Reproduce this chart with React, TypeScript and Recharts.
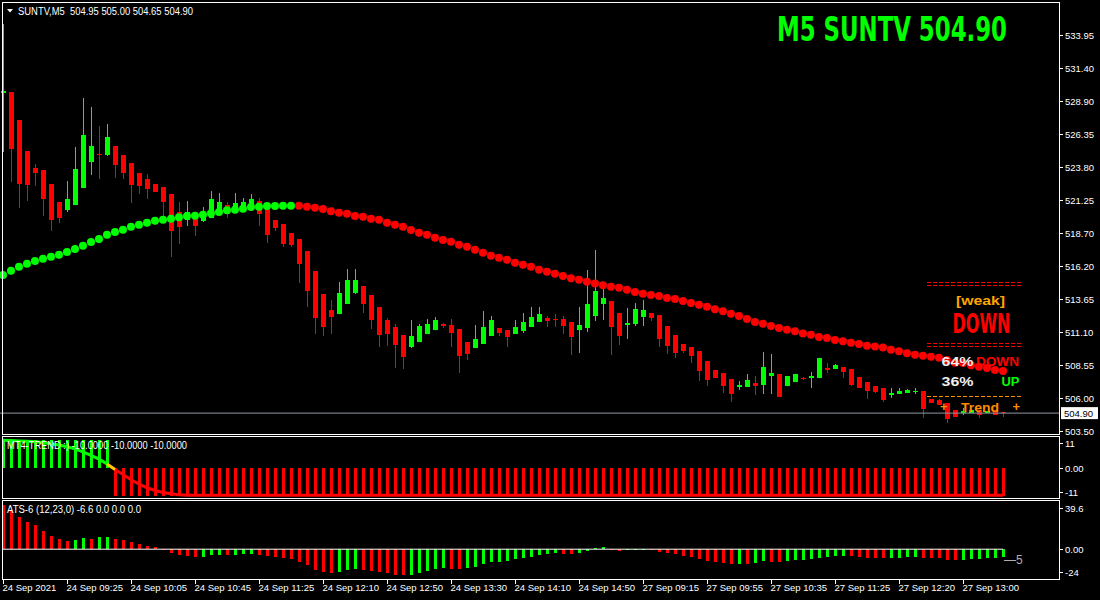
import React from 'react';
import { ComposedChart, Bar, Line, XAxis, YAxis, ReferenceLine, Cell } from 'recharts';

// ---- time axis (one label every 8 five-minute candles)
const tickLabels = [
  '24 Sep 2021', '24 Sep 09:25', '24 Sep 10:05', '24 Sep 10:45', '24 Sep 11:25', '24 Sep 12:10',
  '24 Sep 12:50', '24 Sep 13:30', '24 Sep 14:10', '24 Sep 14:50', '27 Sep 09:15', '27 Sep 09:55',
  '27 Sep 10:35', '27 Sep 11:25', '27 Sep 12:20', '27 Sep 13:00',
];
const TICK_EVERY = 8;

const priceTicks = [533.95, 531.4, 528.9, 526.35, 523.8, 521.25, 518.7, 516.2, 513.65, 511.1, 508.55, 506.0, 503.5];
const lastPrice = 504.9;

// ---- SUNTV M5 candles
const candleOpen = [
  529.54, 529.62, 527.46, 525.08, 523.77, 523.61, 522.53, 521.19, 520.56, 520.94,
  522.25, 524.25, 524.84, 524.77, 525.46, 524.77, 524.15, 523.38, 522.92, 522.53,
  522.30, 521.77, 520.38, 519.77, 519.84, 519.71, 519.94, 520.28, 520.92, 520.56,
  520.63, 520.79, 521.23, 520.84, 519.77, 519.46, 518.76, 518.30, 517.38, 515.84,
  514.07, 512.84, 512.55, 513.32, 514.17, 514.68, 513.99, 513.07, 512.07, 511.53,
  510.91, 510.01, 510.40, 511.01, 511.32, 511.78, 511.68, 511.37, 510.37, 509.94,
  510.24, 510.86, 511.45, 511.30, 511.01, 511.24, 511.55, 511.94, 512.24, 512.15,
  512.15, 511.91, 511.32, 511.47, 512.40, 513.32, 513.53, 512.61, 511.71, 511.78,
  512.32, 512.61, 512.45, 511.61, 510.91, 510.22, 509.99, 509.68, 508.91, 508.22,
  507.99, 507.53, 506.93, 506.93, 507.24, 507.09, 507.78, 507.93, 507.01, 507.32,
  507.63, 507.58, 507.63, 508.40, 508.32, 508.47, 508.30, 507.70, 507.32, 507.01,
  506.86, 506.32, 506.39, 506.47, 506.55, 506.60, 505.99, 505.91, 505.68, 505.14,
  504.89, 504.89, 505.14, 504.89, 505.14, 504.95,
];
const candleHigh = [
  534.85, 529.62, 527.46, 525.08, 524.08, 523.61, 522.53, 521.19, 522.77, 525.38,
  529.15, 528.46, 527.00, 527.15, 525.46, 524.77, 524.15, 523.38, 523.30, 522.53,
  522.30, 521.77, 521.15, 521.23, 519.84, 520.79, 522.00, 521.84, 521.15, 521.84,
  521.46, 521.77, 521.46, 520.84, 519.77, 519.46, 518.76, 518.30, 517.38, 515.84,
  514.07, 513.61, 515.00, 516.00, 516.00, 514.68, 513.99, 513.07, 512.24, 511.76,
  510.91, 512.07, 511.76, 512.15, 512.30, 511.86, 512.15, 511.37, 510.37, 511.68,
  512.76, 512.38, 511.45, 511.30, 512.07, 512.61, 513.07, 513.07, 512.38, 512.53,
  512.38, 511.91, 513.07, 515.91, 517.45, 514.90, 513.53, 512.61, 512.99, 513.38,
  513.61, 512.61, 512.45, 511.61, 510.91, 510.22, 509.99, 509.68, 508.91, 508.22,
  507.99, 507.53, 507.40, 507.93, 507.78, 509.63, 509.47, 507.93, 507.78, 507.93,
  507.70, 508.07, 509.14, 508.78, 508.68, 508.47, 508.30, 507.70, 507.32, 507.01,
  506.86, 506.86, 506.86, 506.78, 506.86, 506.60, 505.99, 506.01, 505.68, 505.14,
  505.27, 505.14, 505.14, 505.06, 505.14, 505.00,
];
const candleLow = [
  525.00, 522.71, 520.71, 521.25, 522.38, 520.10, 518.94, 519.56, 520.40, 520.94,
  522.25, 523.23, 522.94, 524.69, 523.02, 522.92, 521.07, 521.79, 521.40, 521.94,
  520.10, 516.94, 517.94, 519.33, 518.56, 519.63, 519.94, 520.28, 519.94, 520.48,
  520.63, 520.79, 519.33, 518.02, 518.94, 517.71, 517.71, 514.94, 513.09, 511.01,
  510.86, 511.01, 512.55, 513.32, 514.09, 512.63, 511.40, 510.01, 510.09, 508.40,
  508.32, 509.94, 510.40, 511.01, 511.32, 511.48, 510.01, 508.01, 509.01, 509.94,
  510.24, 510.86, 510.86, 510.01, 511.01, 511.09, 511.55, 511.94, 511.55, 511.55,
  511.01, 509.39, 509.55, 511.17, 512.01, 512.09, 509.39, 510.17, 510.63, 511.63,
  511.63, 512.01, 510.01, 509.47, 509.17, 509.55, 508.78, 507.40, 507.01, 507.63,
  506.47, 505.78, 506.70, 506.93, 506.32, 506.39, 506.39, 506.16, 507.01, 507.32,
  507.50, 506.86, 507.63, 508.01, 508.32, 507.63, 507.01, 506.86, 506.01, 506.47,
  505.78, 506.09, 506.39, 506.47, 506.39, 504.55, 505.70, 505.55, 504.16, 504.62,
  504.73, 504.89, 504.55, 504.89, 504.73, 504.65,
];
const candleClose = [
  529.70, 525.23, 522.56, 522.48, 523.38, 521.40, 519.79, 519.94, 521.38, 523.69,
  526.31, 525.46, 524.77, 526.16, 524.00, 523.38, 522.46, 522.40, 522.15, 521.94,
  521.17, 518.92, 519.25, 520.38, 519.33, 520.38, 521.38, 521.15, 520.25, 521.07,
  521.15, 521.38, 520.25, 518.63, 519.17, 517.94, 517.86, 516.40, 514.32, 512.24,
  511.55, 512.32, 514.15, 515.15, 515.15, 513.32, 512.09, 510.94, 511.01, 510.17,
  509.24, 510.84, 511.61, 511.76, 512.07, 511.63, 511.09, 509.32, 509.47, 510.60,
  511.53, 512.07, 511.09, 510.78, 511.55, 511.91, 512.30, 512.53, 512.01, 512.10,
  511.63, 510.78, 511.68, 513.30, 514.30, 513.76, 511.55, 510.86, 511.84, 512.92,
  512.84, 512.24, 510.63, 510.09, 509.55, 509.70, 509.32, 508.17, 507.47, 507.63,
  507.01, 506.39, 507.09, 507.47, 507.01, 508.47, 508.01, 506.16, 507.78, 507.93,
  507.55, 507.73, 509.14, 508.24, 508.60, 508.09, 507.09, 506.86, 506.63, 506.55,
  505.93, 506.47, 506.63, 506.70, 506.63, 505.24, 505.70, 505.55, 504.47, 504.62,
  505.04, 505.14, 504.78, 505.06, 504.73, 504.90,
];

// ---- dotted moving average (green while rising, red after the turn)
const maValues = [
  515.53, 515.86, 516.17, 516.40, 516.61, 516.79, 516.94, 517.09, 517.30, 517.53,
  517.79, 518.07, 518.30, 518.63, 518.84, 519.02, 519.25, 519.40, 519.56, 519.71,
  519.79, 519.87, 519.97, 520.07, 520.10, 520.17, 520.28, 520.38, 520.51, 520.56,
  520.63, 520.77, 520.79, 520.84, 520.84, 520.87, 520.87, 520.87, 520.79, 520.71,
  520.61, 520.43, 520.33, 520.25, 520.07, 520.02, 519.87, 519.79, 519.56, 519.40,
  519.25, 519.00, 518.79, 518.63, 518.40, 518.23, 518.09, 517.86, 517.71, 517.48,
  517.25, 517.02, 516.86, 516.71, 516.48, 516.32, 516.17, 515.94, 515.79, 515.63,
  515.45, 515.28, 515.16, 515.02, 514.87, 514.75, 514.62, 514.55, 514.39, 514.22,
  514.09, 513.99, 513.92, 513.76, 513.68, 513.53, 513.38, 513.25, 513.09, 512.89,
  512.74, 512.55, 512.38, 512.14, 511.91, 511.78, 511.61, 511.45, 511.32, 511.20,
  511.03, 510.94, 510.76, 510.68, 510.53, 510.43, 510.32, 510.22, 510.09, 510.03,
  509.95, 509.77, 509.66, 509.51, 509.40, 509.32, 509.24, 509.17, 508.99, 508.78,
  508.76, 508.58, 508.47, 508.37, 508.22, 508.14,
];
const maLastGreen = 36;

// ---- MT4-TREND window
const trendHist = [
  10, 10, 10, 10, 10, 10, 10, 10, 10, 10, 10, 10, 10, 10, -10, -10, -10, -10, -10, -10,
  -10, -10, -10, -10, -10, -10, -10, -10, -10, -10, -10, -10, -10, -10, -10, -10, -10, -10, -10, -10,
  -10, -10, -10, -10, -10, -10, -10, -10, -10, -10, -10, -10, -10, -10, -10, -10, -10, -10, -10, -10,
  -10, -10, -10, -10, -10, -10, -10, -10, -10, -10, -10, -10, -10, -10, -10, -10, -10, -10, -10, -10,
  -10, -10, -10, -10, -10, -10, -10, -10, -10, -10, -10, -10, -10, -10, -10, -10, -10, -10, -10, -10,
  -10, -10, -10, -10, -10, -10, -10, -10, -10, -10, -10, -10, -10, -10, -10, -10, -10, -10, -10, -10,
  -10, -10, -10, -10, -10, -10,
];
const trendLine = [
  9.8, 9.7, 9.6, 9.5, 9.3, 9.0, 8.6, 8.1, 7.5, 6.7, 5.6, 4.4, 3.0, 1.3, -0.7, -2.5, -4.4, -6.0, -7.3, -8.3,
  -9.0, -9.5, -9.8, -10, -10, -10, -10, -10, -10, -10, -10, -10, -10, -10, -10, -10, -10, -10, -10, -10,
  -10, -10, -10, -10, -10, -10, -10, -10, -10, -10, -10, -10, -10, -10, -10, -10, -10, -10, -10, -10,
  -10, -10, -10, -10, -10, -10, -10, -10, -10, -10, -10, -10, -10, -10, -10, -10, -10, -10, -10, -10,
  -10, -10, -10, -10, -10, -10, -10, -10, -10, -10, -10, -10, -10, -10, -10, -10, -10, -10, -10, -10,
  -10, -10, -10, -10, -10, -10, -10, -10, -10, -10, -10, -10, -10, -10, -10, -10, -10, -10, -10, -10,
  -10, -10, -10, -10, -10, -10,
];
const trendTurn = 13;

// ---- ATS-6 window
const atsValues = [
  35.4, 31.4, 26.0, 22.0, 19.3, 14.8, 10.5, 8.1, 6.4, 7.5,
  9.1, 8.1, 9.7, 9.8, 8.1, 7.2, 5.6, 3.8, 2.7, 1.7,
  -0.2, -3.5, -5.1, -5.9, -6.7, -6.6, -5.1, -5.0, -5.1, -5.0,
  -4.3, -4.2, -5.1, -5.9, -6.7, -7.5, -8.3, -10.7, -13.1, -17.2,
  -18.8, -19.6, -18.8, -17.2, -16.4, -17.2, -18.0, -18.8, -19.6, -21.2,
  -21.3, -21.2, -19.6, -18.0, -16.4, -15.6, -15.7, -15.8, -15.6, -14.8,
  -12.4, -10.7, -10.6, -9.9, -8.3, -7.5, -6.7, -5.1, -4.3, -3.5,
  -4.3, -4.4, -3.5, -1.9, 1.0, 1.8, -1.1, -1.9, -1.1, -1.0,
  -0.9, -1.1, -2.7, -3.5, -4.3, -5.9, -6.7, -8.3, -9.9, -10.7,
  -11.5, -12.4, -12.3, -12.4, -11.5, -9.9, -10.7, -10.8, -9.9, -9.1,
  -8.5, -7.7, -7.0, -6.2, -5.4, -5.3, -5.4, -6.2, -7.0, -7.1,
  -7.2, -7.0, -6.9, -6.8, -6.2, -7.0, -7.1, -7.2, -8.6, -8.7,
  -8.6, -7.8, -7.7, -7.6, -7.5, -6.6,
];
const atsColors =
  'rrrrrrrrrg' + 'grggrrrrrr' + 'rrrrrgggrg' + 'ggrrrrrrrr' + 'rrgggrrrrr' + 'rgggggrrgg' +
  'gggggggggg' + 'rrggggrrgg' + 'grrrrrrrrr' + 'rrgrggrrgg' + 'ggggggrrrr' + 'rggggrrrrr' + 'gggggg';

const GREEN = '#00ff00';
const RED = '#ff0000';
const ORANGE = '#ffa500';
const FONT = '"Liberation Sans", Arial, sans-serif';
const NARROW = '"Liberation Sans Narrow", "Arial Narrow", "DejaVu Sans Condensed", sans-serif';

const rows = candleOpen.map((o, i) => ({
  idx: i,
  open: o,
  high: candleHigh[i],
  low: candleLow[i],
  close: candleClose[i],
  range: [candleLow[i], candleHigh[i]],
  maUp: i <= maLastGreen ? maValues[i] : null,
  maDn: i > maLastGreen ? maValues[i] : null,
  hist: trendHist[i],
  trendUp: i <= trendTurn ? trendLine[i] : null,
  trendMid: i === trendTurn || i === trendTurn + 1 ? trendLine[i] : null,
  trendDn: i > trendTurn ? trendLine[i] : null,
  ats: atsValues[i],
}));

const xTicks = tickLabels.map((_, i) => i * TICK_EVERY);
const PLOT_RIGHT_PAD = 52;

function Candle(props: any) {
  const { x, y, width, height, payload } = props;
  if (!payload) return null;
  const { open, high, low, close } = payload;
  const top = Math.min(y, y + height);
  const h = Math.abs(height);
  const span = high - low;
  const toY = (v: number) => (span > 0 ? top + ((high - v) / span) * h : top);
  const color = close >= open ? GREEN : RED;
  const cx = Math.floor(x + width / 2);
  const bTop = Math.round(toY(Math.max(open, close)));
  const bBot = Math.round(toY(Math.min(open, close)));
  return (
    <g shapeRendering="crispEdges">
      <rect x={cx} y={Math.round(top)} width={1} height={Math.max(1, Math.round(h))} fill={color} />
      <rect x={cx - 2} y={bTop} width={5} height={Math.max(1, bBot - bTop)} fill={color} />
    </g>
  );
}

function HistBar(props: any) {
  const { x, y, width, height, fill } = props;
  const top = Math.min(y, y + height);
  return (
    <rect x={Math.round(x)} y={Math.round(top)} width={width} height={Math.max(1, Math.round(Math.abs(height)))}
      fill={fill} shapeRendering="crispEdges" />
  );
}

function rightTick(format: (v: number) => string, shift: Record<string, number> = {}) {
  return (props: any) => {
    const { x, y, payload } = props;
    const yy = y + (shift[String(payload.value)] || 0);
    return (
      <g>
        <line x1={x} x2={x + 4} y1={yy} y2={yy} stroke="#fff" shapeRendering="crispEdges" />
        <text x={x + 6} y={yy + 3.5} fill="#fff" fontSize={9.5} fontFamily={FONT}>{format(payload.value)}</text>
      </g>
    );
  };
}

function TimeTick(props: any) {
  const { x, y, payload } = props;
  const label = tickLabels[payload.value / TICK_EVERY];
  return (
    <g>
      <line x1={Math.floor(x) + 0.5} x2={Math.floor(x) + 0.5} y1={y + 1} y2={y + 5} stroke="#fff" />
      <text x={x - 0.5} y={y + 11.5} fill="#fff" fontSize={9.5} fontFamily={FONT}>{label}</text>
    </g>
  );
}

function PriceTag(props: any) {
  const vb = props.viewBox || {};
  const x = vb.x + vb.width + 2;
  const y = vb.y;
  return (
    <g>
      <rect x={x} y={y - 6} width={37} height={12} fill="#fff" />
      <text x={x + 3} y={y + 3.5} fill="#000" fontSize={9.5} fontFamily={FONT}>{lastPrice.toFixed(2)}</text>
    </g>
  );
}

const frame = (top: number, height: number): React.CSSProperties => ({
  position: 'absolute', left: 2, top, width: 1058, height, border: '1px solid #fff', boxSizing: 'border-box', pointerEvents: 'none',
});

export default function App() {
  return (
    <div style={{ position: 'fixed', left: 0, top: 0, width: 1100, height: 600, background: '#000', overflow: 'hidden' }}>
      {/* price window */}
      <div style={{ position: 'absolute', left: 0, top: 0 }}>
        <ComposedChart width={1100} height={436} data={rows} margin={{ top: 3, right: 0, bottom: 3, left: -1 }}>
          <XAxis dataKey="idx" type="category" hide padding={{ left: 0, right: PLOT_RIGHT_PAD }} />
          <YAxis orientation="right" width={41} type="number" domain={[503.37, 536.47]} allowDataOverflow
            ticks={priceTicks} interval={0} axisLine={false} tickLine={false} tickSize={0} tickMargin={0}
            tick={rightTick((v) => v.toFixed(2))} />
          <ReferenceLine y={lastPrice} stroke="#8f98a3" ifOverflow="extendDomain" label={<PriceTag />} />
          <Bar dataKey="range" barSize={5} shape={<Candle />} isAnimationActive={false} />
          <Line dataKey="maUp" stroke="none" dot={{ r: 4, fill: GREEN, stroke: 'none' }} activeDot={false} isAnimationActive={false} />
          <Line dataKey="maDn" stroke="none" dot={{ r: 4, fill: RED, stroke: 'none' }} activeDot={false} isAnimationActive={false} />
        </ComposedChart>
      </div>

      {/* MT4-TREND window */}
      <div style={{ position: 'absolute', left: 0, top: 434 }}>
        <ComposedChart width={1100} height={67} data={rows} margin={{ top: 3, right: 0, bottom: 3, left: -1 }}>
          <XAxis dataKey="idx" type="category" hide padding={{ left: 0, right: PLOT_RIGHT_PAD }} />
          <YAxis orientation="right" width={41} type="number" domain={[-11, 11]} allowDataOverflow
            ticks={[11, 0, -11]} interval={0} axisLine={false} tickLine={false} tickSize={0} tickMargin={0}
            tick={rightTick((v) => (v === 0 ? '0.00' : String(v)), { '11': 6, '0': 1, '-11': -5.5 })} />
          <Bar dataKey="hist" barSize={3} shape={<HistBar />} isAnimationActive={false}>
            {rows.map((r) => <Cell key={r.idx} fill={r.hist > 0 ? GREEN : RED} />)}
          </Bar>
          <Line dataKey="trendUp" stroke={GREEN} strokeWidth={3} dot={false} activeDot={false} isAnimationActive={false} />
          <Line dataKey="trendDn" stroke={RED} strokeWidth={3} dot={false} activeDot={false} isAnimationActive={false} />
          <Line dataKey="trendMid" stroke="#ffcc00" strokeWidth={3} dot={false} activeDot={false} isAnimationActive={false} />
        </ComposedChart>
      </div>

      {/* ATS-6 window + time axis */}
      <div style={{ position: 'absolute', left: 0, top: 497 }}>
        <ComposedChart width={1100} height={103} data={rows} margin={{ top: 3, right: 0, bottom: 0, left: -1 }}>
          <XAxis dataKey="idx" type="category" height={21} padding={{ left: 0, right: PLOT_RIGHT_PAD }}
            ticks={xTicks} interval={0} axisLine={false} tickLine={false} tickSize={0} tickMargin={0} tick={<TimeTick />} />
          <YAxis orientation="right" width={41} type="number" domain={[-24, 39.6]} allowDataOverflow
            ticks={[39.6, 0, -24]} interval={0} axisLine={false} tickLine={false} tickSize={0} tickMargin={0}
            tick={rightTick((v) => (v === 0 ? '0.00' : String(v)), { '39.6': 8, '0': 0, '-24': -6.5 })} />
          <Bar dataKey="ats" barSize={3} shape={<HistBar />} isAnimationActive={false}>
            {rows.map((r, i) => <Cell key={r.idx} fill={atsColors[i] === 'g' ? GREEN : RED} />)}
          </Bar>
          <ReferenceLine segment={[{ x: 0, y: 0 }, { x: rows.length - 1, y: 0 }]} stroke="#fff" strokeWidth={1} />
        </ComposedChart>
      </div>

      <div style={frame(2, 433)} />
      <div style={frame(436, 63)} />
      <div style={frame(500, 80)} />

      {/* text objects drawn on the chart */}
      <svg width={1100} height={600} style={{ position: 'absolute', left: 0, top: 0, pointerEvents: 'none' }}>
        <polygon points="7,9 13,9 10,12.5" fill="#fff" />
        <text x={18} y={14.5} fill="#fff" fontSize={10} fontFamily={FONT} style={{ whiteSpace: 'pre' }}
          textLength={175} lengthAdjust="spacingAndGlyphs">SUNTV,M5  504.95 505.00 504.65 504.90</text>
        <text x={777} y={40.5} fill={GREEN} fontSize={33} fontWeight="bold" fontFamily={NARROW}
          textLength={230} lengthAdjust="spacingAndGlyphs">M5 SUNTV 504.90</text>

        <line x1={927} x2={1022} y1={282.5} y2={282.5} stroke={RED} strokeDasharray="4 2" />
        <line x1={927} x2={1022} y1={285.5} y2={285.5} stroke={RED} strokeDasharray="4 2" />
        <text x={956} y={305} fill={ORANGE} fontSize={13} fontWeight="bold" fontFamily={FONT}
          textLength={49} lengthAdjust="spacingAndGlyphs">[weak]</text>
        <text x={952.5} y={333} fill={RED} fontSize={27} fontWeight="bold" fontFamily={NARROW}
          textLength={58} lengthAdjust="spacingAndGlyphs">DOWN</text>
        <line x1={927} x2={1022} y1={343.5} y2={343.5} stroke={RED} strokeDasharray="4 2" />
        <line x1={927} x2={1022} y1={346.5} y2={346.5} stroke={RED} strokeDasharray="4 2" />

        <text x={941.5} y={366} fill="#f0f0f0" fontSize={13} fontWeight="bold" fontFamily={FONT}
          textLength={32} lengthAdjust="spacingAndGlyphs">64%</text>
        <text x={976} y={366} fill={RED} fontSize={13} fontWeight="bold" fontFamily={FONT}
          textLength={43} lengthAdjust="spacingAndGlyphs">DOWN</text>
        <text x={941.5} y={386} fill="#f0f0f0" fontSize={13} fontWeight="bold" fontFamily={FONT}
          textLength={32} lengthAdjust="spacingAndGlyphs">36%</text>
        <text x={1001.5} y={386} fill={GREEN} fontSize={13} fontWeight="bold" fontFamily={FONT}
          textLength={18} lengthAdjust="spacingAndGlyphs">UP</text>

        <line x1={927} x2={1022} y1={396.5} y2={396.5} stroke="#ff8c00" strokeDasharray="4 2" />
        <text x={940} y={411} fill="#ff8c00" fontSize={13} fontWeight="bold" fontFamily={FONT}>+</text>
        <text x={961} y={411.5} fill="#ff8c00" fontSize={13} fontWeight="bold" fontFamily={FONT}
          textLength={38} lengthAdjust="spacingAndGlyphs">Trend</text>
        <text x={1012.5} y={411} fill="#ff8c00" fontSize={13} fontWeight="bold" fontFamily={FONT}>+</text>

        <text x={7} y={449} fill="#fff" fontSize={10} fontFamily={FONT}
          textLength={180} lengthAdjust="spacingAndGlyphs">MT4-TREND :) -10.0000 -10.0000 -10.0000</text>
        <text x={7} y={512.5} fill="#fff" fontSize={10} fontFamily={FONT}
          textLength={134} lengthAdjust="spacingAndGlyphs">ATS-6 (12,23,0) -6.6 0.0 0.0 0.0</text>
        <text x={1004} y={564} fill="#b0b0b0" fontSize={12} fontFamily={FONT}>—5</text>
      </svg>
    </div>
  );
}
